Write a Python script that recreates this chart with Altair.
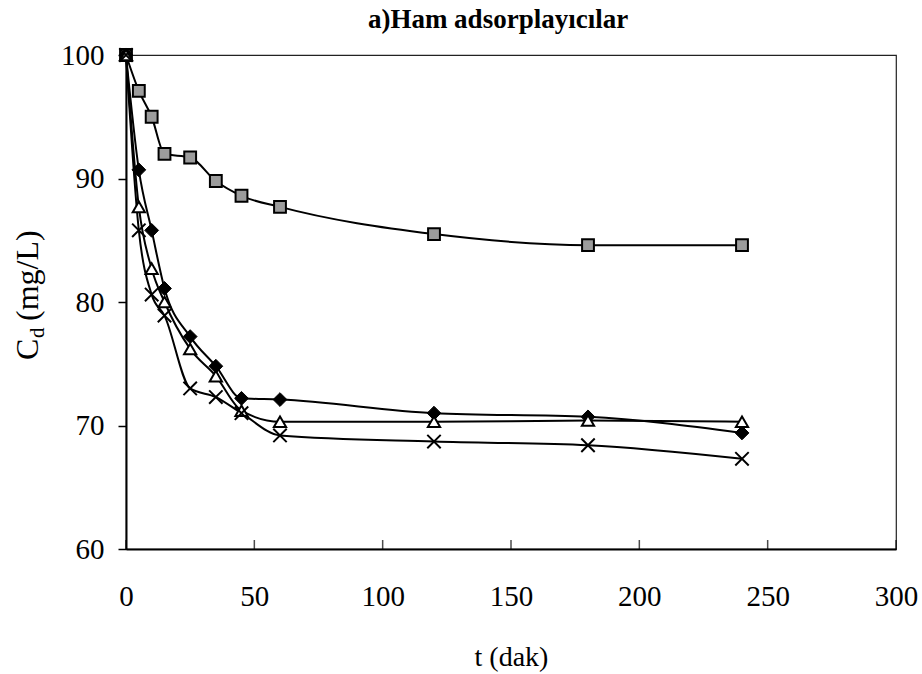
import altair as alt
import pandas as pd

# --- data ---
t_min = [0, 5, 10, 15, 25, 35, 45, 60, 120, 180, 240]
kare = [100, 97.1, 95.0, 92.0, 91.7, 89.8, 88.6, 87.7, 85.5, 84.6, 84.6]
elmas = [100, 90.7, 85.8, 81.1, 77.2, 74.8, 72.2, 72.1, 71.0, 70.7, 69.4]
ucgen = [100, 87.7, 82.7, 80.0, 76.2, 74.0, 71.2, 70.3, 70.3, 70.4, 70.3]
carpi = [100, 85.8, 80.6, 78.9, 73.0, 72.3, 71.0, 69.2, 68.7, 68.4, 67.3]
x_ticks = [0, 50, 100, 150, 200, 250, 300]
y_ticks = [60, 70, 80, 90, 100]
title_text = "a)Ham adsorplayıcılar"
x_title = "t (dak)"

rows = []
for name, vals in [("kare", kare), ("elmas", elmas), ("ucgen", ucgen), ("carpi", carpi)]:
    for t, v in zip(t_min, vals):
        rows.append({"t": t, "C": v, "seri": name})
df = pd.DataFrame(rows)

FONT = "Liberation Serif"
xs = alt.Scale(domain=[0, 300], nice=False)
ys = alt.Scale(domain=[60, 100], nice=False)

base = alt.Chart(df).encode(
    x=alt.X("t:Q", scale=xs, axis=alt.Axis(
        values=x_ticks, title=x_title, ticks=False, grid=False, labelFlush=False,
        domainColor="black", domainWidth=2,
        labelFont=FONT, labelFontSize=29, labelColor="black", labelPadding=33,
        titleFont=FONT, titleFontSize=28, titleFontWeight="normal", titleColor="black",
        titlePadding=32)),
    y=alt.Y("C:Q", scale=ys, axis=alt.Axis(
        values=y_ticks, title=None, grid=False, labelFlush=False,
        domainColor="black", domainWidth=2,
        tickSize=8, tickWidth=1.5, tickColor="black",
        labelFont=FONT, labelFontSize=29, labelColor="black", labelPadding=14)),
)

lines = base.mark_line(color="black", strokeWidth=2, interpolate="monotone").encode(
    detail="seri:N")

sq = base.transform_filter(alt.datum.seri == "kare").mark_point(
    shape="square", size=140, filled=True, fill="#9c9c9c", stroke="black",
    strokeWidth=2, opacity=1)
dm = base.transform_filter(alt.datum.seri == "elmas").mark_point(
    shape="diamond", size=190, filled=True, fill="black", stroke="black",
    strokeWidth=1, opacity=1)
tr = base.transform_filter(alt.datum.seri == "ucgen").mark_point(
    shape="triangle-up", size=150, filled=True, fill="white", stroke="black",
    strokeWidth=2, opacity=1)
cx = base.transform_filter(alt.datum.seri == "carpi").mark_point(
    shape="M-1,-1L1,1M-1,1L1,-1", size=180, filled=False, stroke="black",
    strokeWidth=2, opacity=1)

tick_df = pd.DataFrame({"t": x_ticks, "y0": [60] * len(x_ticks)})
xticks = alt.Chart(tick_df).mark_tick(
    orient="vertical", size=9, thickness=1.5, color="black", yOffset=-4.5
).encode(x=alt.X("t:Q", scale=xs), y=alt.Y("y0:Q", scale=ys))

one = pd.DataFrame({"k": [0]})
title_mark = alt.Chart(one).mark_text(
    text=title_text, align="center", baseline="alphabetic",
    font=FONT, fontSize=27, fontWeight="bold", color="black"
).encode(x=alt.value(372), y=alt.value(-27))
yt_c = alt.Chart(one).mark_text(
    text="C", angle=270, align="left", baseline="alphabetic",
    font=FONT, fontSize=32, color="black").encode(x=alt.value(-88), y=alt.value(305))
yt_d = alt.Chart(one).mark_text(
    text="d", angle=270, align="left", baseline="alphabetic",
    font=FONT, fontSize=21, color="black").encode(x=alt.value(-82), y=alt.value(283))
yt_r = alt.Chart(one).mark_text(
    text="(mg/L)", angle=270, align="left", baseline="alphabetic",
    font=FONT, fontSize=32, color="black").encode(x=alt.value(-88), y=alt.value(266))

chart = alt.layer(lines, xticks, sq, dm, tr, cx, title_mark, yt_c, yt_d, yt_r).properties(
    width=770, height=494,
    autosize=alt.AutoSizeParams(type="none"),
    padding={"left": 126, "top": 55, "right": 26, "bottom": 125},
    background="white",
).configure_view(stroke="#222222", strokeWidth=1.2)

chart.save("out.html", embed_options={"renderer": "svg", "actions": False})
